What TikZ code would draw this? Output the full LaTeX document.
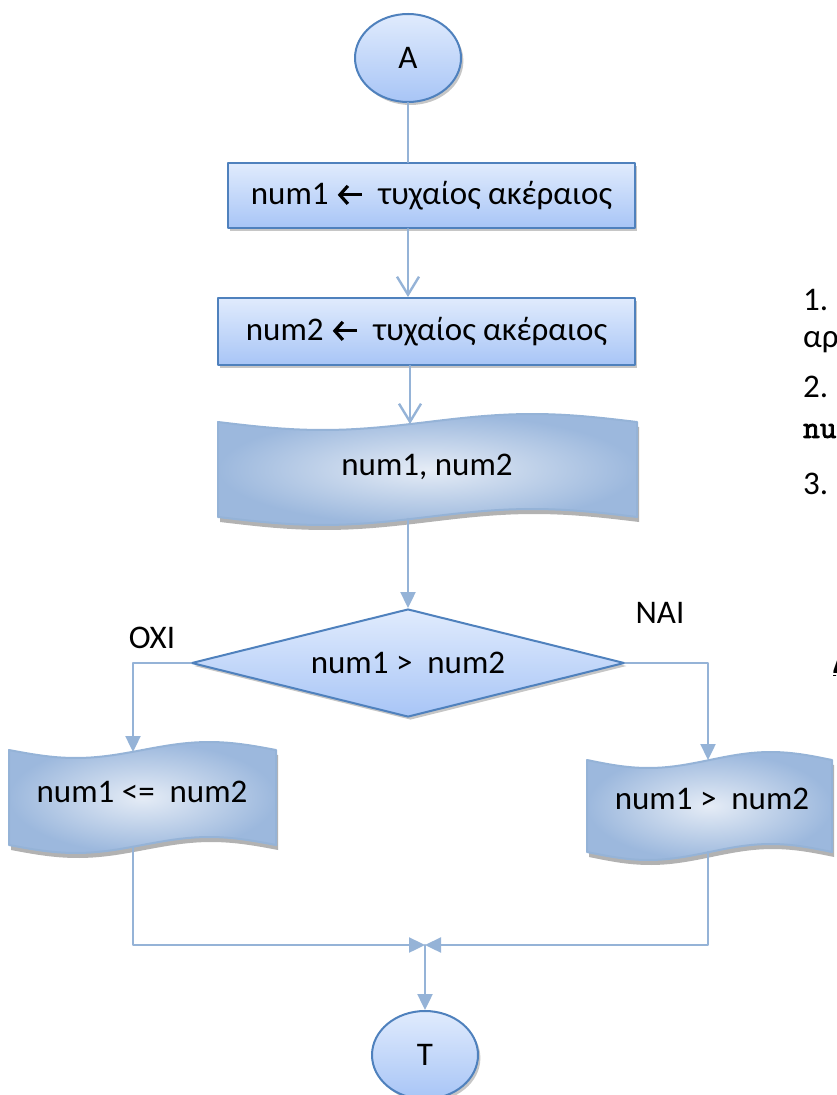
\documentclass[tikz,border=0pt]{standalone}
\usepackage{fontspec}
\setmainfont{Carlito}
\newfontfamily\codefont[FakeBold=2.5]{lmmono10-regular.otf}
\usetikzlibrary{arrows.meta}
\usetikzlibrary{shapes.geometric}
\usetikzlibrary{shadows}
\definecolor{edgeblue}{HTML}{4F81BD}
\definecolor{lineblue}{HTML}{95B3D7}
\definecolor{filltop}{HTML}{E0EBFD}
\definecolor{fillbot}{HTML}{A8C5F6}
\definecolor{tapein}{HTML}{E5ECF6}
\definecolor{tapeout}{HTML}{9CB8DD}
\newcommand{\getsarrow}{\tikz[baseline=-0.6ex]\draw[line width=1.6pt,{Straight Barb[length=4pt,width=9pt]}-] (0,0)--(12pt,0);}
\newcommand{\tape}[4]{%
\fill[black,opacity=0.3] plot[domain=#1:#3,samples=40] ({\x+2},{#2+5+8*sin((\x-#1)/(#3-#1)*360)}) -- plot[domain=#3:#1,samples=40] ({\x+2},{#4+5+8*sin((\x-#1)/(#3-#1)*360)}) -- cycle;
\shade[inner color=tapein,outer color=tapeout,draw=lineblue,line width=1pt] plot[domain=#1:#3,samples=40] (\x,{#2+8*sin((\x-#1)/(#3-#1)*360)}) -- plot[domain=#3:#1,samples=40] (\x,{#4+8*sin((\x-#1)/(#3-#1)*360)}) -- cycle;}

\begin{document}
\begin{tikzpicture}[line cap=round,line join=round,x=0.5pt,y=-0.5pt,
  every node/.style={font=\fontsize{16.5}{20}\selectfont},
  startstop/.style={ellipse,draw=edgeblue,line width=1pt,top color=filltop,bottom color=fillbot,inner sep=0pt,minimum width=53pt,minimum height=44pt,drop shadow={shadow xshift=1.2pt,shadow yshift=-1.5pt,opacity=0.45}},
  process/.style={rectangle,draw=edgeblue,line width=1pt,top color=filltop,bottom color=fillbot,inner sep=0pt,drop shadow={shadow xshift=1.2pt,shadow yshift=-1.5pt,opacity=0.45}},
  decision/.style={diamond,aspect=4,draw=edgeblue,line width=1pt,top color=filltop,bottom color=fillbot,inner sep=0pt,minimum width=216.5pt,minimum height=54pt,drop shadow={shadow xshift=1.2pt,shadow yshift=-1.5pt,opacity=0.45}},
  flow/.style={draw=lineblue,line width=1.2pt},
  openhead/.style={flow,-{Straight Barb[length=9pt,width=11pt]}},
  fullhead/.style={flow,-{Triangle[length=8pt,width=7.5pt]}}]
\useasboundingbox (0,0) rectangle (836,1095);
\clip (0,0) rectangle (836,1095);
\node[startstop] (A) at (408,58) {Α};
\node[process,minimum width=203.5pt,minimum height=32.5pt] (rand1) at (431.5,195.5) {num1 \getsarrow{} \ τυχαίος ακέραιος};
\node[process,minimum width=208.5pt,minimum height=33.5pt] (rand2) at (426.5,331.5) {num2 \getsarrow{} \ τυχαίος ακέραιος};
\tape{218}{422}{637}{517}
\node (show) at (427,467) {num1, num2};
\coordinate (showin) at (410,424);
\coordinate (showout) at (410,519);
\node[decision] (cmp) at (408,663) {num1 >\ \ num2};
\node (nolabel) at (152,638) {ΟΧΙ};
\node (yeslabel) at (660,613) {ΝΑΙ};
\tape{9}{750}{276}{845}
\node (no) at (142,792) {num1 <=\ \ num2};
\coordinate (noin) at (133,752);
\coordinate (noout) at (133,847);
\tape{587}{760}{832}{852}
\node (yes) at (712,799) {num1 >\ \ num2};
\coordinate (yesin) at (708,760);
\coordinate (yesout) at (708,852);
\node[startstop] (T) at (425,1055) {Τ};
\coordinate (join) at (425,945);
\draw[flow] (A.south) -- (A.south |- rand1.north);
\draw[openhead] (A.south |- rand1.south) -- (A.south |- rand2.north);
\draw[openhead] (showin |- rand2.south) -- (showin);
\draw[fullhead] (cmp.north |- showout) -- (cmp.north);
\draw[fullhead] (cmp.west) -| (noin);
\draw[fullhead] (cmp.east) -| (yesin);
\draw[fullhead] (noout) |- (join);
\draw[fullhead] (yesout) |- (join);
\draw[fullhead] (join) -- (T.north);
\node[anchor=west] (p1) at (796,300) {1.};
\node[anchor=west] (p1b) at (796,342) {αρ};
\node[anchor=west] (p2) at (796,387) {2. Ι};
\node[anchor=west,font=\fontsize{16}{20}\codefont] (p2b) at (796,431) {nu};
\node[anchor=west] (p3) at (796,484) {3.};
\node[anchor=west,font=\fontsize{17}{20}\selectfont\bfseries] (p4) at (826,664) {\underline{Δ}};
\end{tikzpicture}
\end{document}
